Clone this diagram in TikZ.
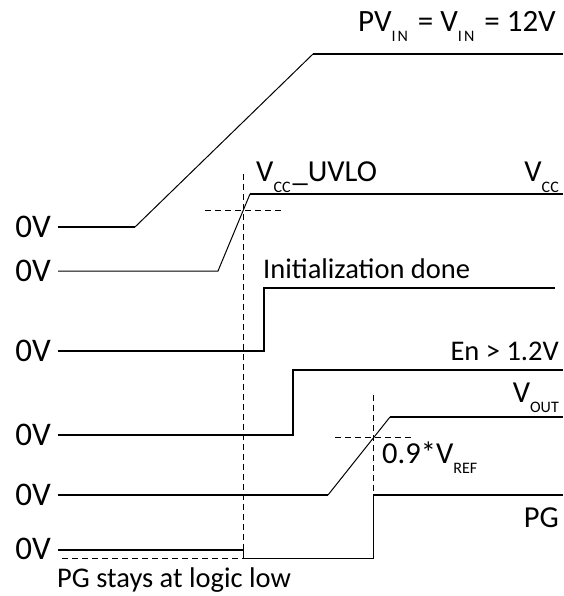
\documentclass[tikz,border=0pt]{standalone}
\usepackage{fontspec}
\setmainfont{Carlito}
\newcommand{\sbx}[1]{\raisebox{-10pt}{\fontsize{16}{16}\selectfont #1}}
\begin{document}
\begin{tikzpicture}[x=1pt,y=-1pt,
  sig/.style={line width=1.6pt},
  ramp/.style={line width=1pt},
  dsh/.style={line width=0.9pt, dash pattern=on 6pt off 4pt},
  lbl/.style={inner sep=0pt, font=\fontsize{28.5}{30}\selectfont},
  vlbl/.style={inner sep=0pt, font=\fontsize{30.5}{31}\selectfont},
  zlbl/.style={inner sep=0pt, anchor=east, font=\fontsize{33}{33}\selectfont}]
\useasboundingbox (0,0) rectangle (563,596);
% zero labels
\node[zlbl] (z1) at (51,227) {0V};
\node[zlbl] (z2) at (51,271) {0V};
\node[zlbl] (z3) at (51,351) {0V};
\node[zlbl] (z4) at (51,435) {0V};
\node[zlbl] (z5) at (51,495) {0V};
\node[zlbl] (z6) at (51,549) {0V};
% PV_IN
\coordinate (a0) at (58,227); \coordinate (a1) at (135,227);
\coordinate (a2) at (313,54); \coordinate (a3) at (563,54);
\draw[sig] (a0) -- (a1); \draw[ramp] (a1) -- (a2); \draw[sig] (a2) -- (a3);
% VCC
\coordinate (b0) at (58,271); \coordinate (b1) at (218,271);
\coordinate (b2) at (250,194); \coordinate (b3) at (563,194);
\draw[ramp] (b0) -- (b1) -- (b2); \draw[sig] (b2) -- (b3);
% Init
\coordinate (c0) at (58,351); \coordinate (c1) at (264,351);
\coordinate (c2) at (264,288); \coordinate (c3) at (555,288);
\draw[sig] (c0) -- (c1) -- (c2) -- (c3);
% En
\coordinate (d0) at (58,435); \coordinate (d1) at (293,435);
\coordinate (d2) at (293,370); \coordinate (d3) at (563,370);
\draw[sig] (d0) -- (d1) -- (d2) -- (d3);
% VOUT
\coordinate (e0) at (58,495); \coordinate (e1) at (328,495);
\coordinate (e2) at (390,417); \coordinate (e3) at (563,417);
\draw[sig] (e0) -- (e1); \draw[ramp] (e1) -- (e2); \draw[sig] (e2) -- (e3);
% PG
\coordinate (f0) at (58,550); \coordinate (f1) at (243,550);
\coordinate (f2) at (243,558); \coordinate (f3) at (373,558);
\coordinate (f4) at (373,495); \coordinate (f5) at (563,495);
\draw[sig] (f0) -- (f1); \draw[ramp] (f1) -- (f2) -- (f3) -- (f4);
\draw[sig] (f4) -- (f5);
% dashed guides
\coordinate (g0) at (243,174); \coordinate (g1) at (243,558);
\coordinate (h0) at (205,210); \coordinate (h1) at (283,210);
\coordinate (i0) at (373,395); \coordinate (i1) at (373,495);
\coordinate (j0) at (335,437); \coordinate (j1) at (413,437);
\coordinate (k0) at (62,558);
\draw[dsh] (g0) -- (g1);
\draw[dsh] (h0) -- (h1);
\draw[dsh] (i0) -- (i1);
\draw[dsh] (j0) -- (j1);
\draw[dsh] (k0) -- (f2);
% labels
\node[vlbl, anchor=base east, font=\fontsize{31}{31}\selectfont] (pv) at (556,32)
  {PV\sbx{I\hspace{2pt}N}\hspace{3pt} = V\sbx{I\hspace{2pt}N}\hspace{3pt} = 12V};
\node[vlbl, anchor=base east] (vcc) at (559,182) {V\sbx{CC}};
\node[vlbl, anchor=base west] (uvlo) at (256,182) {V\sbx{CC}\hspace{2pt}\_UVLO};
\node[lbl, anchor=base west] (init) at (263,278) {Initialization done};
\node[lbl, anchor=base east] (en) at (559,360) {En > 1.2V};
\node[vlbl, anchor=base east] (vout) at (559,402) {V\sbx{OUT}};
\node[vlbl, anchor=base west] (vref) at (382,463) {0.9*V\sbx{REF}};
\node[vlbl, anchor=base east] (pg) at (559,527) {PG};
\node[lbl, anchor=base west] (low) at (57,587) {PG stays at logic low};
\end{tikzpicture}
\end{document}
